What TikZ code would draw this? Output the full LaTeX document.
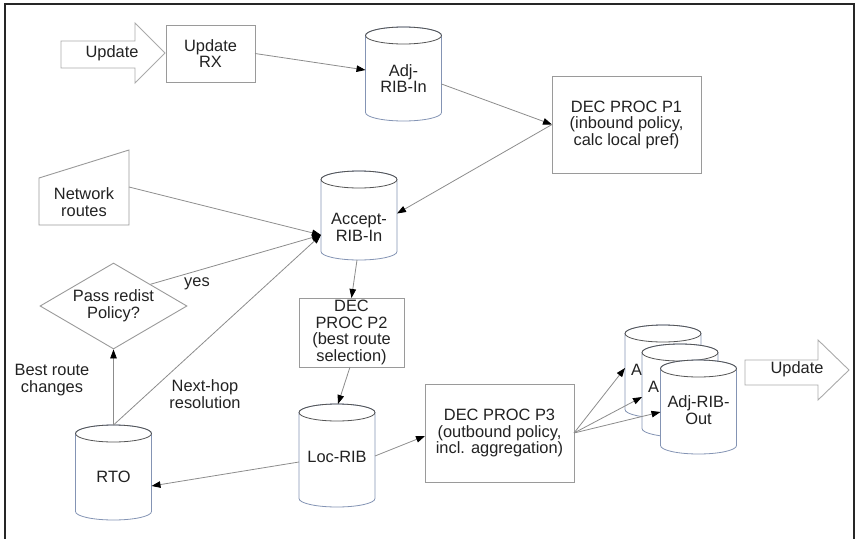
\documentclass[tikz,border=0pt]{standalone}
\usepackage{fontspec}
\setmainfont{Liberation Sans}
\usetikzlibrary{arrows.meta,shapes.geometric}
\definecolor{boxline}{HTML}{9A9A9A}
\definecolor{conline}{HTML}{8C8C8C}
\definecolor{cylside}{HTML}{8494B4}
\definecolor{cyltop}{HTML}{555555}
\definecolor{txt}{HTML}{222222}
\definecolor{blockline}{HTML}{AAAAAA}
\tikzset{
  x=1pt,y=1pt,
  every node/.style={font=\fontsize{16.4}{16.5}\selectfont, text=txt, align=center},
  procbox/.style={draw=boxline, line width=0.9pt, fill=white, inner sep=0pt, outer sep=0pt},
  cylbox/.style={inner sep=0pt, outer sep=0pt, minimum width=76pt},
  con/.style={draw=conline, line width=0.8pt, -{Triangle[length=9pt,width=6.5pt,color=black]}},
  blockarrow/.style={draw=blockline, line width=0.9pt, fill=white, line join=miter},
}
\newcommand\mycyl[5]{% name, centre, height, text shift, text
  \node[cylbox, minimum height=#3] (#1) at #2 {};
  \draw[cylside, line width=0.8pt, fill=white]
    ([yshift=-8.5pt]#1.north west) -- ([yshift=8.5pt]#1.south west)
    arc[start angle=180, end angle=360, x radius=38pt, y radius=8.5pt]
    -- ([yshift=-8.5pt]#1.north east)
    arc[start angle=0, end angle=180, x radius=38pt, y radius=8.5pt] -- cycle;
  \draw[cyltop, line width=0.8pt] ([yshift=-8.5pt]#1.north west)
    arc[start angle=180, end angle=360, x radius=38pt, y radius=8.5pt]
    arc[start angle=0, end angle=180, x radius=38pt, y radius=8.5pt];
  \node (#1-t) at ([yshift=#4]#1.center) {#5};
}
\begin{document}
\begin{tikzpicture}
\useasboundingbox (0,0) rectangle (859,-538);
% frame
\draw[line width=1.2pt, draw=black!85] (5,-545) -- (5,-4) -- (854,-4) -- (854,-545);

% input Update block arrow
\draw[blockarrow] (61,-41) -- (135,-41) -- (135,-23) -- (165,-53) -- (135,-83) -- (135,-68) -- (61,-68) -- cycle;
\node (updin) at (112,-53) {Update};

% output Update block arrow
\draw[blockarrow] (745,-360) -- (818,-360) -- (818,-340) -- (849,-370) -- (818,-400) -- (818,-385) -- (745,-385) -- cycle;
\node (updout) at (797,-369) {Update};

% boxes
\node[procbox, minimum width=89pt, minimum height=57pt] (urx) at (210.5,-53.5) {Update\\RX};
\node[procbox, minimum width=149pt, minimum height=97pt] (p1) at (626.5,-124.5) {DEC PROC P1\\(inbound policy,\\calc local pref)};
\node[procbox, minimum width=105pt, minimum height=69pt] (p2) at (351.5,-332.5) {DEC\\PROC P2\\(best route\\selection)};
\node[procbox, minimum width=149pt, minimum height=98pt] (p3) at (499.5,-433) {DEC PROC P3\\(outbound policy,\\incl. aggregation)};

% network routes (manual input)
\node[inner sep=0pt, outer sep=0pt, minimum width=90pt, minimum height=75pt] (net) at (84,-187.5) {};
\draw[draw=boxline, line width=0.9pt, fill=white] (net.south west) -- ([yshift=-28pt]net.north west) -- (net.north east) -- (net.south east) -- cycle;
\node (net-t) at ([yshift=-14.5pt]net.center) {Network\\routes};

% decision
\node[diamond, draw=boxline, line width=0.9pt, fill=white, inner sep=0pt, aspect=1.7, minimum width=147pt, minimum height=86pt] (dia) at (113.5,-306) {Pass redist\\Policy?};

% cylinders
\mycyl{adjin}{(403.5,-74)}{94pt}{-4.5pt}{Adj-\\RIB-In}
\mycyl{acc}{(359,-215.5)}{89pt}{-12pt}{Accept-\\RIB-In}
\mycyl{loc}{(337,-455.5)}{103pt}{-1.5pt}{Loc-RIB}
\mycyl{rto}{(113.5,-472.5)}{95pt}{-4.5pt}{RTO}
\mycyl{out1}{(663,-371.5)}{93pt}{0pt}{}
\node[anchor=west, inner sep=0pt] (out1-a) at (631,-370) {A};
\mycyl{out2}{(680,-390.5)}{93pt}{0pt}{}
\node[anchor=west, inner sep=0pt] (out2-a) at (648,-387) {A};
\mycyl{out3}{(698.5,-407)}{94pt}{-3pt}{Adj-RIB-\\Out}

% connectors
\draw[con] (urx.east) -- ([yshift=4pt]adjin.west);
\draw[con] ([yshift=-10pt]adjin.east) -- (p1.west);
\draw[con] (p1.west) -- ([yshift=2pt]acc.east);
\draw[con] ([yshift=0.5pt]net.east) -- ([yshift=-19.5pt]acc.west);
\draw[con] (dia.north east) -- ([yshift=-19.5pt]acc.west);
\draw[con] (rto.north) -- ([yshift=-19.5pt]acc.west);
\draw[con] (rto.north) -- (dia.south);
\draw[con] ([xshift=-2pt]acc.south) -- (p2.north);
\draw[con] ([xshift=-1.5pt]p2.south) -- ([xshift=1pt]loc.north);
\draw[con] ([yshift=-6.5pt]loc.west) -- ([yshift=-13.5pt]rto.east);
\draw[con] ([yshift=-0.5pt]loc.east) -- ([yshift=-3pt]p3.west);
\draw[con] (p3.east) -- ([yshift=3.5pt]out1.west);
\draw[con] (p3.east) -- ([yshift=-6.5pt]out2.west);
\draw[con] (p3.east) -- ([yshift=-5pt]out3.west);

% labels
\node (lyes) at (197,-284) {yes};
\node (lbest) at (52,-380) {Best route\\changes};
\node (lnext) at (205,-394) {Next-hop\\resolution};
\end{tikzpicture}
\end{document}
